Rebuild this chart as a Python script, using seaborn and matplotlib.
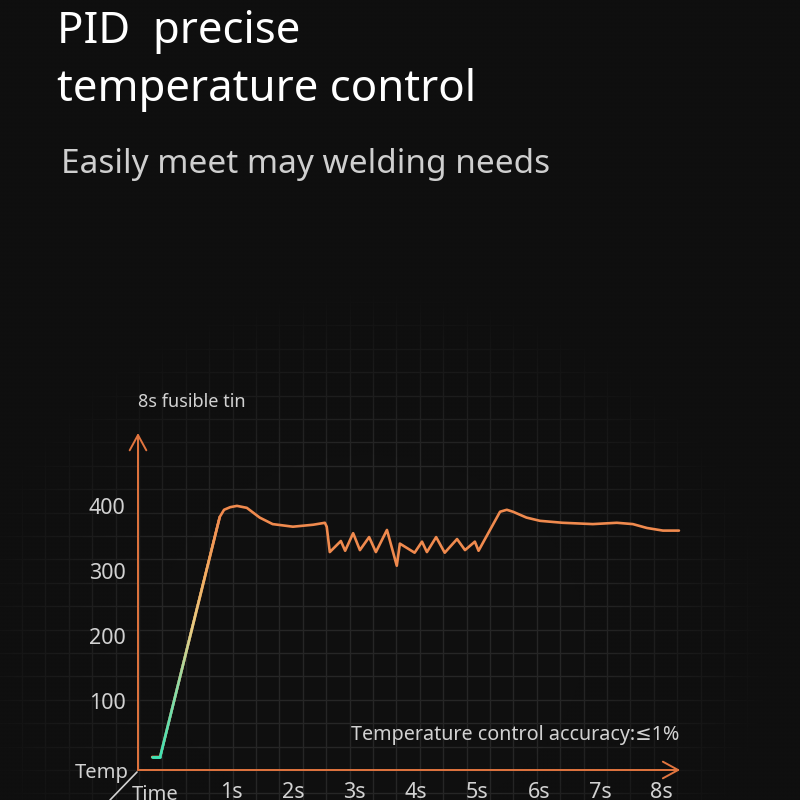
import numpy as np
import pandas as pd
import matplotlib.pyplot as plt
import seaborn as sns
from matplotlib.collections import LineCollection
from matplotlib.colors import LinearSegmentedColormap
from matplotlib.lines import Line2D

# ---------------------------------------------
# DATA
# ---------------------------------------------
time_s = [-0.29, -0.16, 0.81, 0.88, 0.98, 1.09, 1.25, 1.46, 1.67, 2.00, 2.33, 2.52,
          2.55, 2.60, 2.78, 2.85, 2.98, 3.09, 3.24, 3.35, 3.53, 3.69, 3.74, 3.98,
          4.10, 4.18, 4.33, 4.47, 4.67, 4.80, 4.96, 5.02, 5.37, 5.48, 5.58, 5.80,
          6.02, 6.39, 6.88, 7.27, 7.53, 7.76, 8.02, 8.28]
temp_c = [14, 14, 383, 394, 398, 400, 397, 382, 372, 368, 371, 374,
          368, 329, 346, 331, 358, 332, 352, 329, 363, 308, 342, 328,
          345, 329, 352, 328, 349, 332, 345, 331, 391, 394, 391, 382,
          377, 374, 372, 374, 372, 366, 362, 362]
ramp_end = 3  # the heat-up part (first points) is drawn with the colour gradient

y_ticks = [100, 200, 300, 400]
x_ticks = [1, 2, 3, 4, 5, 6, 7, 8]
x_labels = ['1s', '2s', '3s', '4s', '5s', '6s', '7s', '8s']

BG = '#0f0f0f'
GRID = '#262626'
ORANGE = '#f08a4e'
AXIS = '#e2753f'
TXT = '#d2d2d2'

sns.set_theme(style='dark')
plt.rcParams['font.family'] = ['Noto Sans', 'DejaVu Sans']

fig = plt.figure(figsize=(8, 8), dpi=100)
fig.patch.set_facecolor(BG)

# -------------------------------------------------
# background grid that fades out towards the edges
# -------------------------------------------------
bg = fig.add_axes([0, 0, 1, 1])
bg.set_xlim(0, 800)
bg.set_ylim(800, 0)
bg.set_facecolor(BG)
bg.set_xticks(np.arange(139 - 23.4 * 6, 800, 23.4))
bg.set_yticks(np.arange(770 - 23.4 * 34, 810, 23.4))
bg.grid(True, color=GRID, lw=1.0)
bg.tick_params(length=0, labelbottom=False, labelleft=False)
for s in bg.spines.values():
    s.set_visible(False)

gx, gy = np.meshgrid(np.linspace(0, 800, 200), np.linspace(0, 800, 200))
d = np.sqrt(((gx - 370) / 430) ** 2 + ((gy - 640) / 370) ** 2)
fade = np.clip((d - 0.5) / 0.45, 0, 1)
overlay = np.zeros((200, 200, 4))
overlay[..., :3] = 15 / 255
overlay[..., 3] = fade
bg.imshow(overlay, extent=[0, 800, 800, 0], aspect='auto', zorder=3, interpolation='bilinear')
bg.set_xlim(0, 800)
bg.set_ylim(800, 0)

# -------------------------------------------------
# main chart
# -------------------------------------------------
ax = fig.add_axes([138 / 800, 30 / 800, 552 / 800, 350 / 800])
ax.patch.set_alpha(0)
ax.set_xlim(-0.52, 8.46)
ax.set_ylim(-6, 532)
for s in ax.spines.values():
    s.set_visible(False)
ax.grid(False)

df = pd.DataFrame({'time': time_s, 'temp': temp_c})
sns.lineplot(data=df, x='time', y='temp', color=ORANGE, lw=1.9, sort=False,
             estimator=None, ax=ax, zorder=3, solid_joinstyle='round',
             solid_capstyle='round')

# gradient on the heat-up ramp
cmap = LinearSegmentedColormap.from_list(
    'heat', [(0, '#3fe2b4'), (0.3, '#8fdca6'), (0.52, '#e4cf86'),
             (0.75, '#f2ae62'), (1.0, ORANGE)])
rx = np.array(time_s[:ramp_end])
ry = np.array(temp_c[:ramp_end])
segs = []
cols = []
for i in range(len(rx) - 1):
    n = 60
    xs = np.linspace(rx[i], rx[i + 1], n + 1)
    ys = np.linspace(ry[i], ry[i + 1], n + 1)
    for j in range(n):
        segs.append([(xs[j], ys[j]), (xs[j + 1], ys[j + 1])])
        cols.append(cmap(np.clip((ys[j] - 14) / (383 - 14), 0, 1)))
lc = LineCollection(segs, colors=cols, lw=1.9, capstyle='round', zorder=4)
ax.add_collection(lc)

# axes with arrow heads
arrow = dict(arrowstyle='->,head_length=0.55,head_width=0.3', color=AXIS, lw=1.4,
             shrinkA=0, shrinkB=0, mutation_scale=20)
ax.annotate('', xy=(-0.52, 512), xytext=(-0.52, -6), arrowprops=arrow, annotation_clip=False)
ax.annotate('', xy=(8.3, -6), xytext=(-0.52, -6), arrowprops=arrow, annotation_clip=False)

ax.set_yticks(y_ticks)
ax.set_yticklabels([str(v) for v in y_ticks])
ax.set_xticks(x_ticks)
ax.set_xticklabels(x_labels)
ax.tick_params(axis='y', length=0, pad=9, labelsize=15.5, labelcolor=TXT)
ax.tick_params(axis='x', length=0, pad=9, labelsize=15.5, labelcolor=TXT)
for lab in ax.get_xticklabels() + ax.get_yticklabels():
    lab.set_fontweight('light')
ax.set_xlabel('')
ax.set_ylabel('')

ax.text(-0.52, 560, '8s fusible tin', fontsize=13, color=TXT, ha='left', va='center',
        fontweight='light')
ax.text(8.28, 48, 'Temperature control accuracy:≤1%', fontsize=14.2, color=TXT,
        ha='right', va='center', family=['Noto Sans', 'DejaVu Sans'])

# corner labels
fig.text(102 / 800, 1 - 773 / 800, 'Temp', fontsize=14.5, color=TXT, ha='center',
         va='center', fontweight='light')
fig.text(155 / 800, 1 - 795 / 800, 'Time', fontsize=14.5, color=TXT, ha='center',
         va='center', fontweight='light')
fig.add_artist(Line2D([110 / 800, 137 / 800], [0, 1 - 772 / 800], color=TXT, lw=1.2))

# headline
fig.text(57 / 800, 1 - 43 / 800, 'PID  precise', fontsize=31.5, color='white', va='baseline')
fig.text(57 / 800, 1 - 101 / 800, 'temperature control', fontsize=31.5, color='white',
         va='baseline')
fig.text(61 / 800, 1 - 173 / 800, 'Easily meet may welding needs', fontsize=24,
         color='#cfcfcf', va='baseline', fontweight='light')

fig.savefig('out.png', dpi=100, facecolor=BG)
